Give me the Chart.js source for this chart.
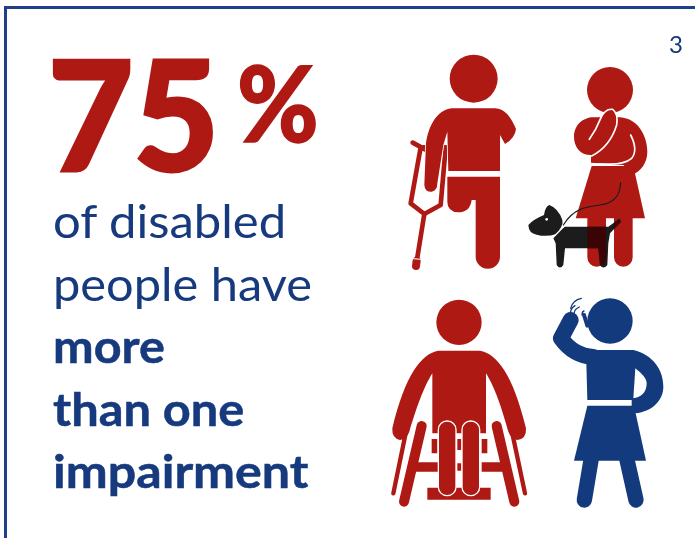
<!DOCTYPE html>
<html>
<head>
<meta charset="utf-8">
<script src="https://cdn.jsdelivr.net/npm/chart.js@4"></script>
<style>
html,body{margin:0;padding:0;background:#fff;width:695px;height:538px;overflow:hidden}
#wrap{position:relative;width:695px;height:538px}
#frameTop{position:absolute;left:4px;top:6px;right:0;height:2.5px;background:#1f4088}
#frameLeft{position:absolute;left:4px;top:6px;bottom:0;width:2.5px;background:#1f4088}
canvas{position:absolute;left:0;top:0}
.t{position:absolute;line-height:0;white-space:nowrap;font-family:Lato,"Open Sans",sans-serif;color:#163a7d;transform-origin:0 50%}
.b{font-weight:700;-webkit-text-stroke:.5px #163a7d}
.big{color:#ae1914;font-weight:900;-webkit-text-stroke:3px #ae1914}
</style>
</head>
<body>
<div id="wrap">
<div id="frameTop"></div><div id="frameLeft"></div>
<canvas id="c" width="695" height="538"></canvas>
<div class="t" style="left:669px;top:44px;font-size:24px" id="pg"></div>
<div class="t big" style="left:48px;top:112px;font-size:152px;transform:scaleX(.97)" id="num"></div>
<div class="t big" style="left:237px;top:102px;font-size:104px;transform:scaleX(.95);-webkit-text-stroke:1.5px #ae1914">%</div>
<div id="lines"></div>
</div>
<script>
const pageNumber = "3";
const sharePercent = 75;
const textLines = ["of disabled", "people have", "more", "than one", "impairment"];
const textBold = [false, false, true, true, true];
const iconNames = ["crutch user", "guide dog user", "wheelchair user", "hearing impairment"];
const iconColumn = [0, 1, 0, 1];
const iconRow = [0, 0, 1, 1];

const RED = "#ae1914", BLUE = "#133a7c", WHITE = "#fff", BLACK = "#1c1c1c";

document.getElementById("pg").textContent = pageNumber;
document.getElementById("num").textContent = String(sharePercent);
const baselines = [239, 302, 364, 427, 489];
const lineFit = [1.065, 1.06, 1.055, 1.06, 1.09];
const host = document.getElementById("lines");
textLines.forEach((s, i) => {
  const d = document.createElement("div");
  d.className = "t" + (textBold[i] ? " b" : "");
  d.textContent = s;
  const size = 46;
  d.style.fontSize = size + "px";
  d.style.left = "53px";
  d.style.top = (baselines[i] - 0.387 * size) + "px";
  d.style.transform = "scaleX(" + lineFit[i] + ")";
  host.appendChild(d);
});

function icon(draw, tx, ty) {
  const cv = document.createElement("canvas");
  cv.width = 160; cv.height = 240;
  const g = cv.getContext("2d");
  g.setTransform(1 / 3, 0, 0, 1 / 3, tx, ty);
  g.lineCap = "round"; g.lineJoin = "round";
  draw(g);
  return cv;
}
function circle(g, x, y, r, col) { g.fillStyle = col; g.beginPath(); g.arc(x, y, r, 0, 7); g.fill(); }
function stroke(g, d, w, col, cap) {
  g.strokeStyle = col; g.lineWidth = w; g.lineCap = cap || "round";
  g.stroke(new Path2D(d)); g.lineCap = "round";
}
function fill(g, d, col) { g.fillStyle = col; g.fill(new Path2D(d)); }

function crutchUser(g) {
  circle(g, 251, 146, 72, RED);
  stroke(g, "M68,338 L112,362 M100,352 L168,352 M92,352 L62,520 L103,552 L152,525 L167,352", 14, RED);
  stroke(g, "M103,552 L80,695", 14, RED);
  stroke(g, "M80,692 L78,708", 24, RED);
  stroke(g, "M68,686 L94,688", 3, WHITE, "butt");
  const body = "M185,235 L315,235 C345,235 365,265 378,297 Q375,325 345,342 L330,315 L330,423 L175,423 L172,305 L160,345 L142,460 Q142,482 125,485 Q105,488 103,465 L108,340 C115,290 140,240 185,235 Z";
  stroke(g, body, 5, WHITE);
  fill(g, body, RED);
  fill(g, "M172,440 L330,440 L330,680 A36.5,36.5 0 0 1 257,680 L257,510 L245,510 Q240,547 205,547 Q172,545 172,515 Z", RED);
}
function guideDogUser(g) {
  circle(g, 660, 180, 69, RED);
  const legs = "M620,560 L620,682 M700,560 L700,682";
  stroke(g, legs, 56, RED);
  fill(g, "M605,408 L730,408 L765,565 L557,565 Z", RED);
  fill(g, "M610,262 L690,262 C745,265 772,320 772,365 C772,400 750,425 730,432 L700,405 L603,398 L603,375 C570,375 552,350 552,320 C552,285 580,262 610,262 Z", RED);
  const hand = "M598,328 Q618,300 632,265 Q645,235 668,238 Q685,250 680,285 Q660,350 605,378 L600,330 Z";
  fill(g, hand, RED);
  stroke(g, "M598,328 Q618,300 632,265 Q645,235 668,238 Q685,250 680,285 Q660,350 605,378", 5, WHITE);
  stroke(g, "M722,315 Q745,360 725,385 Q705,402 660,402 L604,402", 5, WHITE);
  const dog = new Path2D("M415,585 Q430,568 462,555 Q465,530 478,525 Q505,535 517,570 Q520,585 507,600 L525,590 L655,590 L688,566 L693,575 L660,610 L655,640 L652,705 Q640,720 630,705 L625,655 L525,655 L520,705 Q510,720 500,705 L497,640 L490,625 L498,612 Q470,622 440,614 Q416,610 415,585 Z");
  g.fillStyle = BLACK; g.fill(dog);
  g.save(); g.clip(dog); stroke(g, legs, 56, "#3a0404"); g.restore();
  stroke(g, "M490,622 L525,586", 4, WHITE);
  circle(g, 470, 568, 4, WHITE);
  stroke(g, "M692,458 C690,500 670,520 630,525 C590,530 550,535 520,585", 3.5, BLACK);
}
function wheelchairUser(g) {
  circle(g, 237, 112, 68, RED);
  const body = "M175,197 L300,197 C350,205 400,270 438,430 Q440,462 412,465 Q392,460 385,440 C360,350 340,300 318,265 L318,445 L157,445 L157,265 C135,300 115,350 88,440 Q80,462 60,465 Q35,460 37,430 C75,270 125,205 175,197 Z";
  fill(g, body, RED);
  stroke(g, "M76,450 L40,625 M398,450 L435,625", 13, RED);
  stroke(g, "M125,423 L72,650 M350,423 L403,650", 37, WHITE);
  stroke(g, "M125,423 L72,650 M350,423 L403,650", 30, RED);
  fill(g, "M110,532 L175,532 L175,560 L104,560 Z M305,532 L368,532 L375,560 L305,560 Z M155,462 L172,462 L172,505 L155,505 Z M305,462 L322,462 L322,505 L305,505 Z M232,462 L244,462 L244,495 L232,495 Z M232,535 L244,535 L244,557 L232,557 Z M142,608 L332,608 L332,644 L142,644 Z", RED);
  const legs = new Path2D();
  legs.roundRect(175, 408, 53, 224, 26);
  legs.roundRect(246, 408, 53, 224, 26);
  g.fillStyle = RED; g.fill(legs);
  g.strokeStyle = WHITE; g.lineWidth = 4; g.stroke(legs);
}
function hearingUser(g) {
  circle(g, 690, 108, 68, BLUE);
  stroke(g, "M612,90 L622,122", 12, BLUE);
  stroke(g, "M640,216 C600,213 568,195 543,160 L572,105", 48, BLUE);
  stroke(g, "M572,92 Q568,72 585,62 M584,92 Q578,74 598,66 M606,90 Q606,80 612,78", 4, BLUE);
  stroke(g, "M572,70 Q578,45 604,40", 4, BLUE);
  fill(g, "M618,195 L760,195 C820,210 850,255 850,305 C850,350 810,385 755,385 L755,345 L622,345 Z", BLUE);
  fill(g, "M766,250 C785,265 800,280 800,295 C800,325 780,338 760,340 Z", WHITE);
  fill(g, "M622,362 L762,362 L798,527 L582,527 Z", BLUE);
  stroke(g, "M634,520 L613,645 M740,520 L768,645", 46, BLUE);
}

const pointIcons = [
  icon(crutchUser, 5, -15),
  icon(guideDogUser, -130, -15),
  icon(wheelchairUser, -5, 5),
  icon(hearingUser, -140, 5)
];

new Chart(document.getElementById("c"), {
  type: "scatter",
  data: {
    labels: iconNames,
    datasets: [{
      label: "Impairment pictograms",
      data: iconColumn.map((c, i) => ({ x: c, y: iconRow[i] })),
      pointStyle: pointIcons,
      pointRadius: 80,
      clip: false
    }]
  },
  options: {
    responsive: false,
    animation: false,
    devicePixelRatio: 1,
    layout: { padding: 0, autoPadding: false },
    plugins: { legend: { display: false }, tooltip: { enabled: false }, title: { display: false } },
    scales: {
      x: { type: "linear", bounds: "data", display: false, min: -465 / 135, max: 230 / 135 },
      y: { type: "linear", bounds: "data", display: false, reverse: true, min: -165 / 235, max: 373 / 235 }
    }
  }
});
</script>
</body>
</html>
